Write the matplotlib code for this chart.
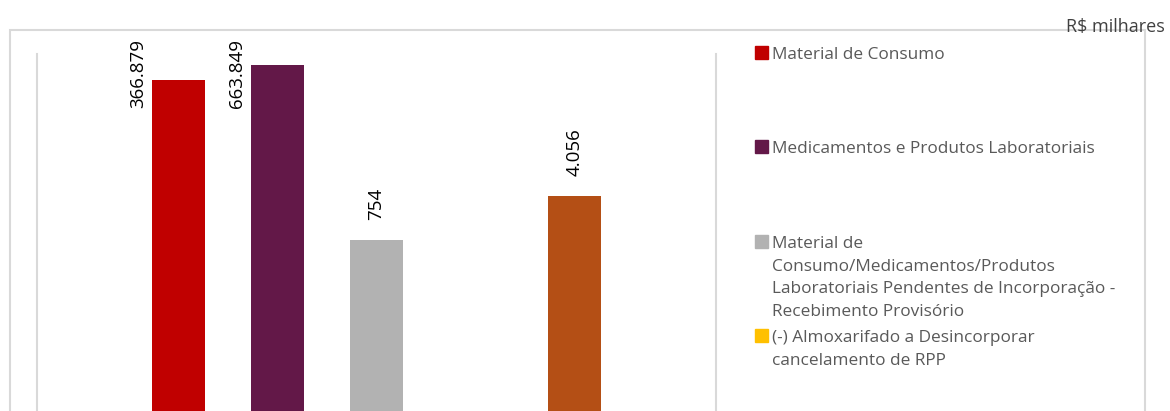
import numpy as np
import matplotlib
matplotlib.use("Agg")
import matplotlib.pyplot as plt
from matplotlib.patches import Rectangle

# series (one category, five series)
series = [
    "Material de Consumo",
    "Medicamentos e Produtos Laboratoriais",
    "Material de\nConsumo/Medicamentos/Produtos\nLaboratoriais Pendentes de Incorporação -\nRecebimento Provisório",
    "(-) Almoxarifado a Desincorporar\ncancelamento de RPP",
    "",
]
values = [366879, 663849, 754, np.nan, 4056]
value_labels = ["366.879", "663.849", "754", "", "4.056"]
colors = ["#C00000", "#631848", "#B2B2B2", "#FFC000", "#B44F15"]

W, H = 1170, 411
fig = plt.figure(figsize=(W / 100, H / 100), dpi=100)
plt.rcParams['font.family'] = ['Open Sans', 'DejaVu Sans']

ax = fig.add_axes([37 / W, 0, (716 - 37) / W, (H - 54) / H])
x = np.arange(len(values))
bw = 0.54
ax.bar(x, values, width=bw, color=colors)
ax.set_yscale('log')
ax.set_ylim(1, 1e6)
ax.set_xlim(-1.43, 5.43)
ax.set_xticks([])
ax.set_yticks([])
ax.minorticks_off()
for s in ['top', 'bottom']:
    ax.spines[s].set_visible(False)
for s in ['left', 'right']:
    ax.spines[s].set_color('#D9D9D9')
    ax.spines[s].set_linewidth(1.5)

ymax = ax.get_ylim()[1]
for xi, v, lab in zip(x, values, value_labels):
    if not lab:
        continue
    if np.log10(v) / np.log10(ymax) > 0.8:
        # label doesn't fit above the bar: put it beside, at the top
        ax.annotate(lab, xy=(xi - bw / 2, ymax), xytext=(-3.6, 10.8),
                    textcoords='offset points', rotation=90,
                    ha='right', va='top', fontsize=13.5, color='black',
                    annotation_clip=False)
    else:
        ax.annotate(lab, xy=(xi, v), xytext=(0, 14.4),
                    textcoords='offset points', rotation=90,
                    ha='center', va='bottom', fontsize=13.5, color='black')

# outer chart frame
fig.patches.append(Rectangle((10 / W, -0.1), (1145 - 10) / W, 1.1 - 30 / H,
                             transform=fig.transFigure, fill=False,
                             edgecolor='#D9D9D9', linewidth=1.5))

# legend drawn by hand (square centre y in px for each entry)
leg_centres = [52.5, 146.5, 241.5, 335.5]
for cy, name, c in zip(leg_centres, series, colors):
    fig.patches.append(Rectangle((755 / W, 1 - (cy + 6.5) / H), 12.5 / W, 13 / H,
                                 transform=fig.transFigure, color=c))
    fig.text(772 / W, 1 - (cy - 5.5) / H, name, fontsize=12.4, color='#595959',
             va='top', ha='left', linespacing=1.56,
             transform=fig.transFigure)

fig.text(1165 / W, 1 - 27 / H, "R$ milhares", fontsize=13, color='#404040',
         ha='right', va='center')

fig.savefig("out.png", dpi=100)
